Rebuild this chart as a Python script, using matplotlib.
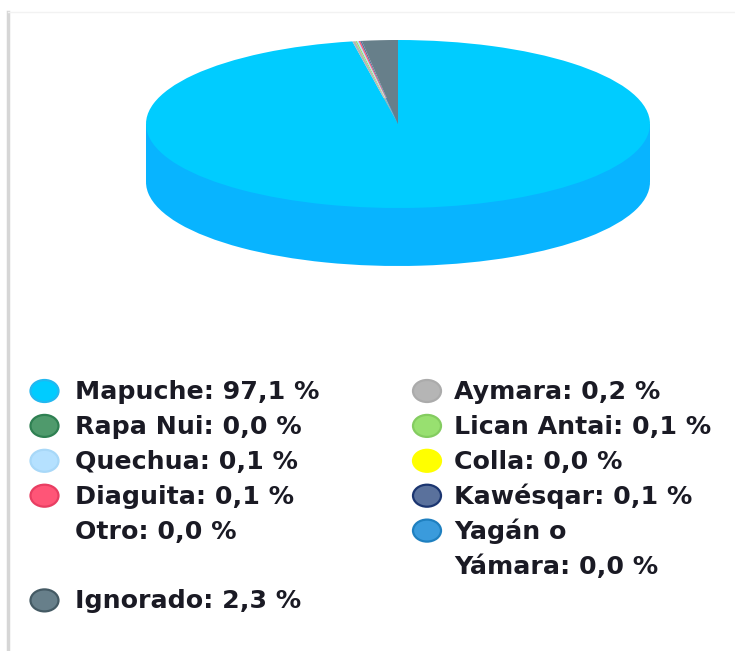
import matplotlib
matplotlib.use("Agg")
import matplotlib.pyplot as plt
from matplotlib.patches import Ellipse

names = ['Mapuche', 'Aymara', 'Rapa Nui', 'Lican Antai', 'Quechua', 'Colla',
         'Diaguita', 'Kawésqar', 'Otro', 'Yagán o\nYámara', 'Ignorado']
values = [97.1, 0.2, 0.0, 0.1, 0.1, 0.0, 0.1, 0.1, 0.0, 0.0, 2.3]
colors = ['#00CCFF', '#B5B5B5', '#4F9A6C', '#98E070', '#B5E1FF', '#FFFF00',
          '#FF5577', '#5A719C', '#FFFFFF', '#3A9BDC', '#677F8A']
edges = ['#22B8F0', '#ABABAB', '#2F8052', '#84CC60', '#A8D8F8', '#FFFF00',
         '#E83E62', '#1B3570', '#FFFFFF', '#1F80C0', '#445A64']
side_color = '#08B4FF'

W, H = 735, 651
fig = plt.figure(figsize=(W / 100, H / 100), dpi=100, facecolor='white')

# pixel coordinate layer for the frame lines and legend
bg = fig.add_axes([0, 0, 1, 1])
bg.set_xlim(0, W)
bg.set_ylim(H, 0)
bg.axis('off')
bg.plot([8, 8], [12, H], color='#D6D6D6', lw=2.5)
bg.plot([8, 735], [12, 12], color='#F2F2F2', lw=1)

# the 3d pie: squashed pie on top of a darker copy
cx, cy, rx, ry, depth = 398, 124, 252, 84, 58
ax = fig.add_axes([(cx - rx) / W, 1 - (cy + ry + depth) / H, 2 * rx / W, (2 * ry + depth) / H])
d = depth / ry
ax.pie(values, colors=[side_color] * len(values), center=(0, -d), radius=1,
       startangle=90, counterclock=False)
ax.fill_between([-1, 1], -d, 0, color=side_color, lw=0)
ax.pie(values, colors=colors, center=(0, 0), radius=1,
       startangle=90, counterclock=False)
ax.set_aspect('auto')
ax.set_xlim(-1, 1)
ax.set_ylim(-1 - d, 1)
ax.axis('off')

# legend, two columns
rows = [0, 0, 1, 1, 2, 2, 3, 3, 4, 4, 6]
cols = [0, 1, 0, 1, 0, 1, 0, 1, 0, 1, 0]
for name, val, c, e, row, col in zip(names, values, colors, edges, rows, cols):
    mx = 44.5 if col == 0 else 427
    tx = 75 if col == 0 else 454
    y = 391 + 34.9 * row
    if name != 'Otro':
        bg.add_patch(Ellipse((mx, y), 28, 22, fc=c, ec=e, lw=1.6))
    label = f"{name}: {val:.1f} %".replace('.', ',')
    for i, line in enumerate(label.split('\n')):
        bg.text(tx, y + 1 + i * 35.5, line, fontsize=18.2, family='DejaVu Sans',
                weight='bold', color='#1A1A24', va='center', ha='left')

fig.savefig('out.png', dpi=100)
